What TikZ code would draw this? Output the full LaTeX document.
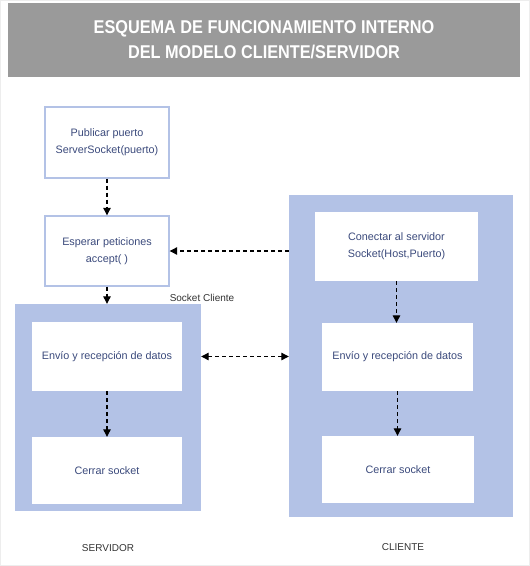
\documentclass[tikz,border=0pt]{standalone}
\usepackage{fontspec}
\setmainfont{Liberation Sans}
\newfontfamily\titlefont[FakeStretch=0.88]{Liberation Sans}
\usetikzlibrary{arrows.meta}
\definecolor{titlegray}{HTML}{9A9A9A}
\definecolor{panelblue}{HTML}{B3C2E6}
\definecolor{boxtext}{HTML}{3B4A7C}
\definecolor{labeltext}{HTML}{333333}
\begin{document}
\begin{tikzpicture}[x=1pt,y=-1pt,
  panel/.style={fill=panelblue, inner sep=0pt},
  stepbox/.style={fill=white, draw=panelblue, line width=1.4pt, inner sep=0pt, align=center,
    text=boxtext, font=\fontsize{10.8}{17}\selectfont},
  inbox/.style={fill=white, inner sep=0pt, align=center,
    text=boxtext, font=\fontsize{10.8}{17}\selectfont},
  lbl/.style={text=labeltext, inner sep=0pt, font=\fontsize{10}{12}\selectfont},
  flow/.style={dash pattern=on 4pt off 3pt, line width=1.1pt, black,
    -{Triangle[length=7.5pt,width=7.5pt]}},
  both/.style={flow, {Triangle[length=7.5pt,width=7.5pt]}-{Triangle[length=7.5pt,width=7.5pt]}}]
\useasboundingbox (0,0) rectangle (530,566);
\draw[black!7, line width=0.8pt] (0.5,0.5) rectangle (529.5,565.5);
% title
\node[fill=titlegray, minimum width=512pt, minimum height=74pt, inner sep=0pt,
  text=white, align=center, font=\titlefont\bfseries\fontsize{18.5}{25}\selectfont]
  (title) at (264,40) {ESQUEMA DE FUNCIONAMIENTO INTERNO\\DEL MODELO CLIENTE/SERVIDOR};
% server side
\node[stepbox, minimum width=124pt, minimum height=71pt] (pub) at (107,142.5)
  {Publicar puerto\\ServerSocket(puerto)};
\node[stepbox, minimum width=124pt, minimum height=70pt] (esp) at (107,251)
  {Esperar peticiones\\accept( )};
\node[panel, minimum width=186pt, minimum height=207pt] (srv) at (108,407.5) {};
\node[inbox, minimum width=150pt, minimum height=69pt] (senv) at (107,356.5)
  {Envío y recepción de datos};
\node[inbox, minimum width=150pt, minimum height=67pt] (scer) at (107,470.5)
  {Cerrar socket};
% client side
\node[panel, minimum width=224pt, minimum height=322pt] (cli) at (401,356) {};
\node[inbox, minimum width=163pt, minimum height=69pt] (ccon) at (396.5,246.5)
  {Conectar al servidor\\Socket(Host,Puerto)};
\node[inbox, minimum width=151pt, minimum height=68pt] (cenv) at (397.5,357)
  {Envío y recepción de datos};
\node[inbox, minimum width=152pt, minimum height=67pt] (ccer) at (398,469.5)
  {Cerrar socket};
% labels
\node[lbl] (sock) at (202,298) {Socket Cliente};
\node[lbl] (servlbl) at (108,548) {SERVIDOR};
\node[lbl] (clilbl) at (403,547) {CLIENTE};
% connectors
\draw[flow] (pub.south) -- (esp.north);
\draw[flow] (esp.south) -- (esp.south |- srv.north);
\draw[flow] (cli.west |- esp.east) -- (esp.east);
\draw[flow] (senv.south) -- (scer.north);
\draw[both] (srv.east |- senv) -- (cli.west |- senv);
\draw[flow] (ccon.south) -- (ccon.south |- cenv.north);
\draw[flow] (cenv.south) -- (cenv.south |- ccer.north);
\end{tikzpicture}
\end{document}
